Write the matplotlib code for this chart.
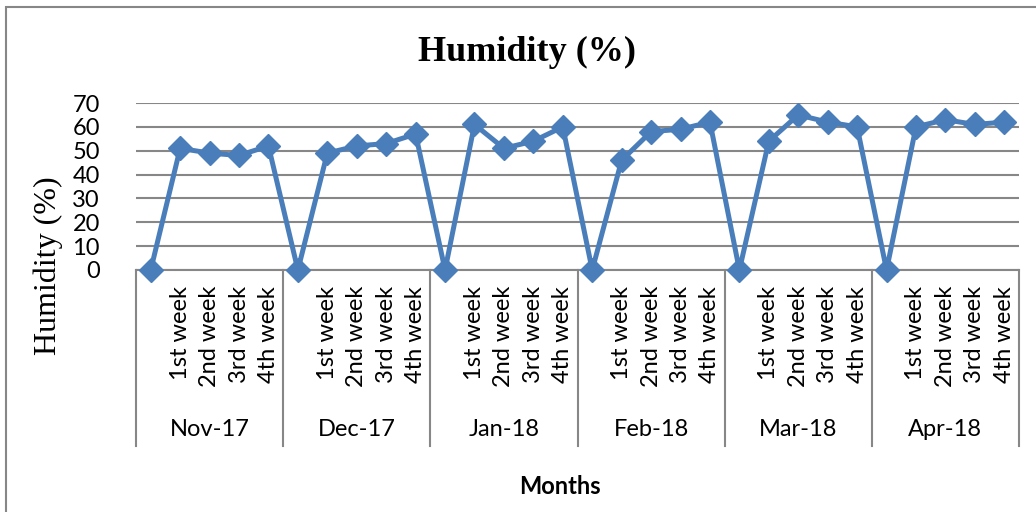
import matplotlib.pyplot as plt
from matplotlib.patches import Rectangle

months = ['Nov-17', 'Dec-17', 'Jan-18', 'Feb-18', 'Mar-18', 'Apr-18']
weeks = ['', '1st week', '2nd week', '3rd week', '4th week']
humidity = [0, 51, 49, 48, 52,
            0, 49, 52, 53, 57,
            0, 61, 51, 54, 60,
            0, 46, 58, 59, 62,
            0, 54, 65, 62, 60,
            0, 60, 63, 61, 62]
yticks = [0, 10, 20, 30, 40, 50, 60, 70]

W, H = 1036, 512
fig = plt.figure(figsize=(W / 100, H / 100), dpi=100)
ax = fig.add_axes([136 / W, 1 - 270 / H, (1019 - 136) / W, (270 - 103) / H])

grey = '#878787'
blue = '#4A7EBB'
label_font = 'Lato'

x = list(range(len(humidity)))
ax.plot(x, humidity, color=blue, linewidth=3.6, marker='D', markersize=12,
        zorder=3, clip_on=False)

ax.set_xlim(-0.5, len(humidity) - 0.5)
ax.set_ylim(0, 70)
ax.set_yticks(yticks)
ax.set_yticklabels([str(v) for v in yticks], fontsize=17, family=label_font)
ax.tick_params(axis='y', length=0, pad=26)
ax.set_xticks([])
ax.grid(axis='y', color=grey, linewidth=1.5)
ax.set_axisbelow(True)
for side in ['top', 'right', 'left']:
    ax.spines[side].set_visible(False)
ax.spines['bottom'].set_color(grey)
ax.spines['bottom'].set_linewidth(1.5)

# multi-level category axis
trans = ax.get_xaxis_transform()
n = len(weeks)
sep_bottom = -(446 - 270) / (270 - 103)
week_top = -(286 - 270) / (270 - 103)
month_y = -(429 - 270) / (270 - 103)
for g in range(len(months) + 1):
    xs = g * n - 0.5
    ax.plot([xs, xs], [0, sep_bottom], color=grey, linewidth=1.5,
            transform=trans, clip_on=False)
for g, m in enumerate(months):
    for i, w in enumerate(weeks):
        if w:
            ax.text(g * n + i, week_top, w, rotation=90, ha='center', va='top',
                    fontsize=17, family=label_font, transform=trans)
    ax.text(g * n + (n - 1) / 2, month_y, m, ha='center', va='center',
            fontsize=17, family=label_font, transform=trans)

fig.text(527 / W, 1 - 52 / H, 'Humidity (%)', ha='center', va='center',
         fontsize=26, fontweight='bold', family='Liberation Serif')
fig.text(48 / W, 1 - 266 / H, 'Humidity (%)', ha='center', va='center',
         rotation=90, fontsize=23, family='Liberation Serif')
fig.text(560 / W, 1 - 487 / H, 'Months', ha='center', va='center',
         fontsize=17, fontweight='bold', family=label_font)

# chart border
fig.patches.append(Rectangle((6 / W, -0.1), 2, 1.1 - 7 / H, fill=False,
                             edgecolor=grey, linewidth=1.5,
                             transform=fig.transFigure))

fig.savefig('out.png', dpi=100)
